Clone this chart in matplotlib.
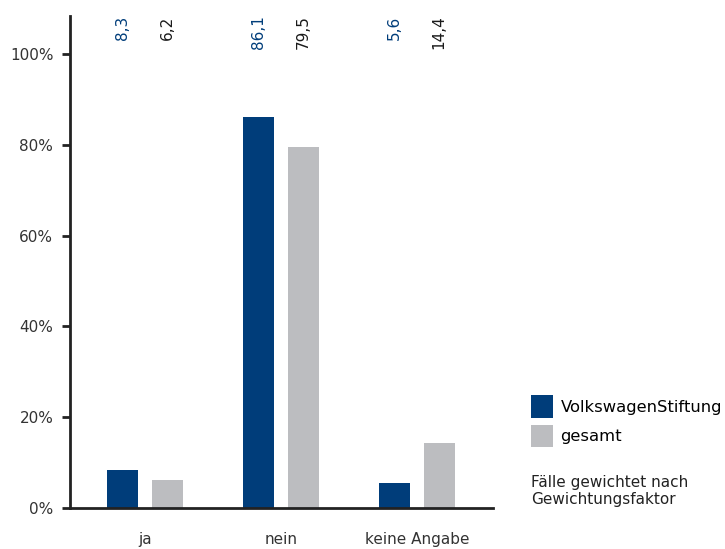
import matplotlib.pyplot as plt
import numpy as np

# data
categories = ['ja', 'nein', 'keine Angabe']
vw = [8.3, 86.1, 5.6]
gesamt = [6.2, 79.5, 14.4]
vw_labels = ['8,3', '86,1', '5,6']
ges_labels = ['6,2', '79,5', '14,4']

blue = '#003d7a'
grey = '#bcbdc0'

plt.rcParams['font.family'] = ['DejaVu Sans']

fig = plt.figure(figsize=(7.25, 5.49), dpi=100)
ax = fig.add_axes([70/725, 41/549, 423/725, 492/549])

x = np.arange(len(categories))
w = 0.228
off = 0.165
b1 = ax.bar(x - off, vw, w, color=blue, label='VolkswagenStiftung')
b2 = ax.bar(x + off, gesamt, w, color=grey, label='gesamt')

# value labels on top
for xi, lab in zip(x, vw_labels):
    ax.text(xi - off, 108.5, lab, rotation=90, ha='center', va='top',
            color=blue, fontsize=11, fontweight='medium')
for xi, lab in zip(x, ges_labels):
    ax.text(xi + off, 108.5, lab, rotation=90, ha='center', va='top',
            color='#1a1a1a', fontsize=11, fontweight='medium')

ax.set_xlim(-0.55, 2.56)
ax.set_ylim(0, 108.4)
ax.set_yticks([0, 20, 40, 60, 80, 100])
ax.set_yticklabels(['0%', '20%', '40%', '60%', '80%', '100%'])
ax.set_xticks(x)
ax.set_xticklabels(categories)
ax.tick_params(axis='x', length=0, pad=17, labelsize=11, colors='#333333')
ax.tick_params(axis='y', length=6, width=2, direction='out', labelsize=11,
               colors='#333333', pad=6)
ax.tick_params(axis='y', color='#222222')
for s in ['top', 'right']:
    ax.spines[s].set_visible(False)
ax.spines['left'].set_linewidth(2)
ax.spines['bottom'].set_linewidth(2)
ax.spines['left'].set_color('#222222')
ax.spines['bottom'].set_color('#222222')

fig.legend(handles=[b1, b2], loc='upper left', bbox_to_anchor=(531/725, 1 - 395/549),
           frameon=False, fontsize=11.8, handlelength=1.35, handleheight=1.75,
           handletextpad=0.45, labelspacing=0.43, borderaxespad=0, borderpad=0)
fig.text(531/725, 1 - 475/549, 'Fälle gewichtet nach\nGewichtungsfaktor',
         fontsize=11, va='top', ha='left', color='#222222', linespacing=1.15)

fig.savefig('out.png', dpi=100)
